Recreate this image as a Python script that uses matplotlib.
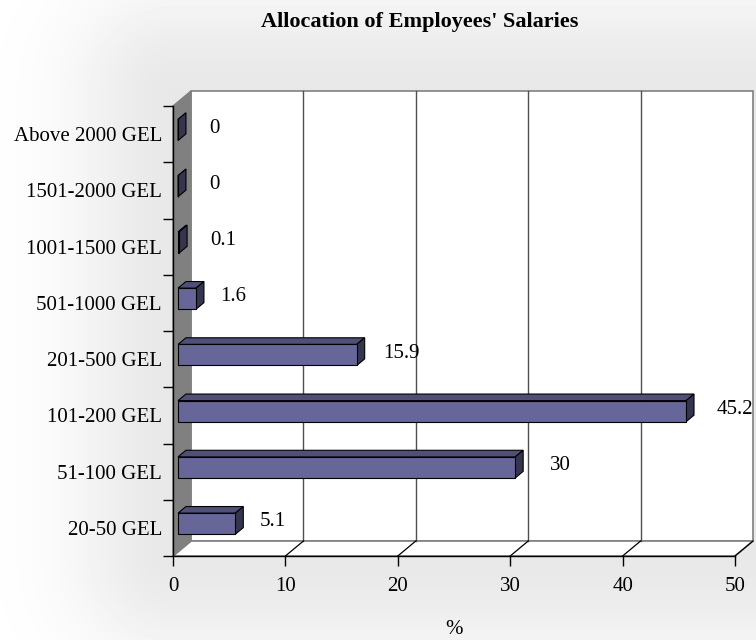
import numpy as np
import matplotlib
matplotlib.use("Agg")
import matplotlib.pyplot as plt
from matplotlib.patches import Polygon
from matplotlib.transforms import Affine2D, IdentityTransform

# ---- data ----
categories = ["20-50 GEL", "51-100 GEL", "101-200 GEL", "201-500 GEL",
              "501-1000 GEL", "1001-1500 GEL", "1501-2000 GEL", "Above 2000 GEL"]
values = [5.1, 30, 45.2, 15.9, 1.6, 0.1, 0, 0]
value_labels = ["5.1", "30", "45.2", "15.9", "1.6", "0.1", "0", "0"]
x_ticks = [0, 10, 20, 30, 40, 50]
title = "Allocation of Employees' Salaries"
x_title = "%"

# ---- style ----
W, H, DPI = 756, 640, 100
FONT = "Liberation Serif"
DX, DY = 18, 15          # depth of the 3-D box in pixels
D0, D1 = 0.28, 0.72      # bar front/back depth fractions
BAR_H = 0.375
FRONT = "#666699"
TOP = "#4f4f78"
SIDE = "#35354f"
WALL = "#808080"
label_gap = [16, 27, 23, 18, 16, 23, 23, 23]   # px between bar end and its label

fig = plt.figure(figsize=(W / DPI, H / DPI), dpi=DPI)

# background soft shadow
bg = fig.add_axes([0, 0, 1, 1], zorder=0)
bg.set_axis_off()
yy, xx = np.mgrid[0:H, 0:W]
rx0, rx1, ry0, ry1 = 173, 753, 91, 556
ddx = np.maximum(np.maximum(rx0 - xx, xx - rx1), 0)
ddy = np.maximum(np.maximum(ry0 - yy, yy - ry1), 0)
dist = np.hypot(ddx, ddy)
img = 1 - 0.09 * np.exp(-(dist / 100.0) ** 2)
bg.imshow(img, cmap="gray", vmin=0, vmax=1, extent=[0, W, H, 0], aspect="auto",
          interpolation="bilinear")
bg.set_xlim(0, W)
bg.set_ylim(H, 0)

# main axes = front plane
L, R, B, T = 173, 735, 556, 106
ax = fig.add_axes([L / W, 1 - B / H, (R - L) / W, (B - T) / H], zorder=1)
ax.patch.set_alpha(0)
n = len(categories)
ax.set_xlim(x_ticks[0], x_ticks[-1])
ax.set_ylim(0, n)
for s in ["top", "right"]:
    ax.spines[s].set_visible(False)
for s in ["left", "bottom"]:
    ax.spines[s].set_color("black")
    ax.spines[s].set_linewidth(1)
    ax.spines[s].set_zorder(10)

ax.set_xticks(x_ticks)
ax.set_xticklabels([str(t) for t in x_ticks], fontfamily=FONT, fontsize=15)
ax.tick_params(axis="x", direction="out", length=7, width=1, pad=8)
ax.set_yticks(np.arange(n + 1))
ax.set_yticklabels([])
ax.set_yticks(np.arange(n) + 0.5, minor=True)
ax.set_yticklabels(categories, minor=True, fontfamily=FONT, fontsize=15)
ax.tick_params(axis="y", which="major", direction="out", length=7, width=1)
ax.tick_params(axis="y", which="minor", length=0, pad=8)

fig.canvas.draw()


def P(x, y, d):
    px, py = ax.transData.transform((x, y))
    return (px + d * DX, py + d * DY)


def poly(pts, fc, ec="black", lw=0.8, z=2):
    ax.add_patch(Polygon(pts, closed=True, facecolor=fc, edgecolor=ec,
                         linewidth=lw, transform=IdentityTransform(), zorder=z,
                         clip_on=False))


x0, x1 = x_ticks[0], x_ticks[-1]
# back wall
poly([P(x0, 0, 1), P(x1, 0, 1), P(x1, n, 1), P(x0, n, 1)], "white", WALL, 1.2, 1)
# floor
poly([P(x0, 0, 0), P(x1, 0, 0), P(x1, 0, 1), P(x0, 0, 1)], "white", WALL, 1.2, 1)
# left wall
poly([P(x0, 0, 0), P(x0, 0, 1), P(x0, n, 1), P(x0, n, 0)], WALL, WALL, 1.0, 1)
# gridlines on back wall and floor
for t in x_ticks[1:-1]:
    a, b = P(t, 0, 1), P(t, n, 1)
    ax.plot([a[0], b[0]], [a[1], b[1]], color="#505050", lw=1.0,
            transform=IdentityTransform(), zorder=1.5, clip_on=False)
for t in x_ticks[1:]:
    a, b = P(t, 0, 0), P(t, 0, 1)
    ax.plot([a[0], b[0]], [a[1], b[1]], color="black", lw=0.9,
            transform=IdentityTransform(), zorder=1.5, clip_on=False)

# bars
front_tr = ax.transData + Affine2D().translate(D0 * DX, D0 * DY)
centers = np.arange(n) + 0.5
ax.barh(centers, values, height=BAR_H, color=FRONT, edgecolor="black",
        linewidth=0.8, transform=front_tr, zorder=3, clip_on=False)
for c, v, lab, gap in zip(centers, values, value_labels, label_gap):
    yb, yt = c - BAR_H / 2, c + BAR_H / 2
    poly([P(0, yt, D0), P(v, yt, D0), P(v, yt, D1), P(0, yt, D1)], TOP, z=2.5)
    poly([P(v, yb, D0), P(v, yb, D1), P(v, yt, D1), P(v, yt, D0)], SIDE, z=2.5)
    ey = P(v, c, 0.4)[1]
    ex = P(v, c, D1)[0]
    ax.text(ex + gap, ey, lab, transform=IdentityTransform(), ha="left",
            va="center", fontfamily=FONT, fontsize=15, zorder=4)

# titles
fig.text(420 / W, 1 - 27 / H, title, ha="center",
         va="baseline", fontfamily=FONT, fontsize=16, fontweight="bold")
fig.text(P((x0 + x1) / 2, 0, 0)[0] / W, 0.002, x_title, ha="center",
         va="bottom", fontfamily=FONT, fontsize=15)

fig.savefig("out.png", dpi=DPI)
